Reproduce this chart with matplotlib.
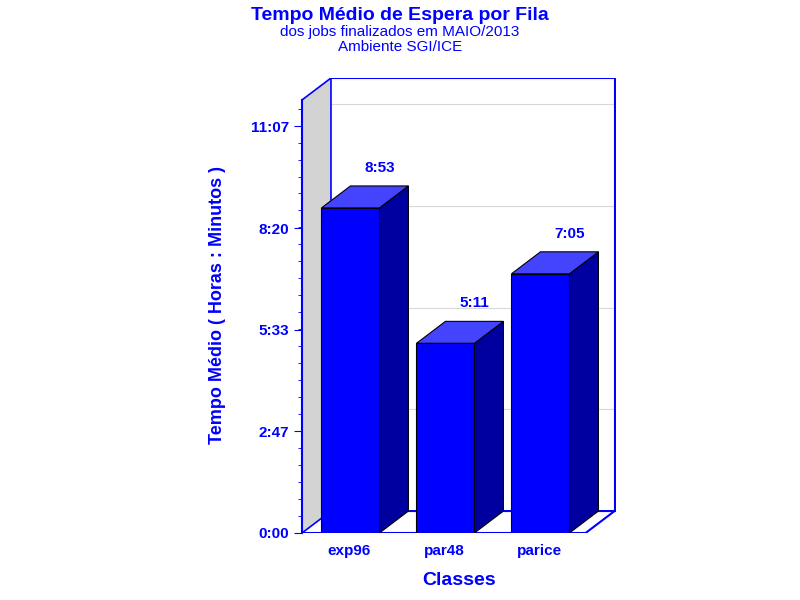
import matplotlib
matplotlib.use('Agg')
import matplotlib.pyplot as plt
from matplotlib.patches import Polygon
import numpy as np

plt.rcParams['font.family'] = 'Liberation Sans'

classes = ['exp96', 'par48', 'parice']
values_min = [533, 311, 425]          # 8:53, 5:11, 7:05
value_labels = ['8:53', '5:11', '7:05']
tick_vals = [0, 167, 333, 500, 667]
tick_labels = ['0:00', '2:47', '5:33', '8:20', '11:07']

BLUE = '#0000ff'
fig = plt.figure(figsize=(8, 6), dpi=100)
ax = fig.add_axes([302/800, 1-533/600, (616-302)/800, (533-78)/600])
ax.set_xlim(-0.495, 2.81)
ax.set_ylim(0, 746)
for s in ax.spines.values():
    s.set_visible(False)

dx, dy = 0.305, 36
xl, xr, ytop = -0.495, 2.49, 710

# side wall and frame
ax.add_patch(Polygon([(xl, 0), (xl+dx, dy), (xl+dx, ytop+dy), (xl, ytop)],
                     closed=True, fc='#d3d3d3', ec=BLUE, lw=1.2, zorder=1))
ax.plot([xl+dx, xr+dx, xr+dx], [ytop+dy, ytop+dy, dy], color=BLUE, lw=1.5, zorder=1)
ax.plot([xl, xr, xr+dx, xl+dx], [0, 0, dy, dy], color=BLUE, lw=1.5, zorder=1)
for t in tick_vals[1:]:
    ax.plot([xl+dx, xr+dx], [t+dy, t+dy], color='#d8d8d8', lw=0.8, zorder=0)
ax.plot([xl, xl], [0, ytop], color=BLUE, lw=1.5, zorder=5, clip_on=False)

w = 0.61
for i, v in enumerate(values_min):
    x0 = i - w/2 + (349-349)/95
    x0 = i - 0.29
    x1 = x0 + w
    ax.add_patch(Polygon([(x1, 0), (x1+dx, dy), (x1+dx, v+dy), (x1, v)],
                         fc='#0000a0', ec='black', lw=0.8, zorder=3))
    ax.add_patch(Polygon([(x0, v), (x0+dx, v+dy), (x1+dx, v+dy), (x1, v)],
                         fc='#4444ff', ec='black', lw=0.8, zorder=3))
    ax.add_patch(Polygon([(x0, 0), (x1, 0), (x1, v), (x0, v)],
                         fc=BLUE, ec='black', lw=0.8, zorder=4))
    ax.text(x0 + w/2 + dx, v + dy + 18, value_labels[i], color=BLUE,
            fontsize=11, fontweight='bold', ha='center', va='bottom')

ax.set_yticks(tick_vals)
ax.set_yticklabels(tick_labels)
ax.set_yticks(np.arange(0, 711, 167/6), minor=True)
ax.tick_params(axis='y', which='major', colors=BLUE, length=6, labelsize=11)
ax.tick_params(axis='y', which='minor', colors=BLUE, length=3)
for lab in ax.get_yticklabels():
    lab.set_fontweight('bold')
ax.set_xticks(range(len(classes)))
ax.set_xticklabels(classes, fontsize=11, fontweight='bold', color=BLUE)
ax.tick_params(axis='x', length=0, pad=8)

ax.set_ylabel('Tempo Médio ( Horas : Minutos )', color=BLUE, fontsize=13,
              fontweight='bold', labelpad=18)
ax.set_xlabel('Classes', color=BLUE, fontsize=14, fontweight='bold', labelpad=10)

fig.text(0.5, 0.975, 'Tempo Médio de Espera por Fila', color=BLUE, fontsize=14,
         fontweight='bold', ha='center', va='center')
fig.text(0.5, 0.947, 'dos jobs finalizados em MAIO/2013', color=BLUE, fontsize=11,
         ha='center', va='center')
fig.text(0.5, 0.922, 'Ambiente SGI/ICE', color=BLUE, fontsize=11,
         ha='center', va='center')

fig.savefig('out.png', dpi=100)
